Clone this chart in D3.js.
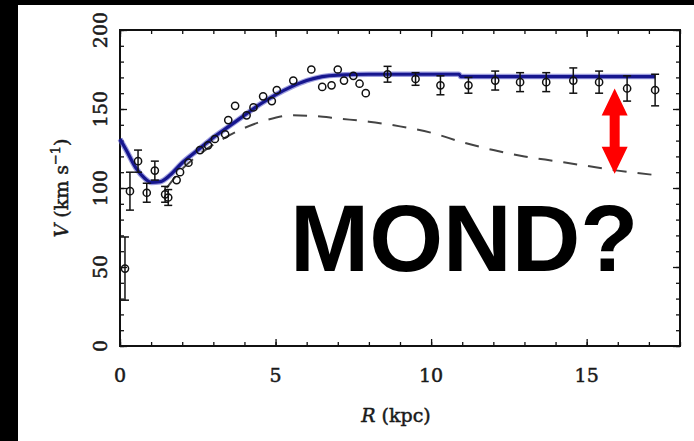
<!DOCTYPE html>
<html><head><meta charset="utf-8">
<script src="https://cdn.jsdelivr.net/npm/d3@7"></script>
<style>body{margin:0;background:#000}svg{display:block}</style>
</head><body>
<script>
// Observed rotation curve points: radius (kpc), velocity (km/s), error (km/s)
const obsR   = [0.16, 0.32, 0.58, 0.86, 1.12, 1.45, 1.55, 1.82, 1.93, 2.2, 2.57, 2.83, 3.05, 3.38, 3.48, 3.7, 4.07, 4.29, 4.6, 4.88, 5.04, 5.57, 6.15, 6.5, 6.8, 7.0, 7.2, 7.5, 7.7, 7.9, 8.6, 9.5, 10.3, 11.2, 12.06, 12.86, 13.7, 14.57, 15.4, 16.3, 17.2];
const obsV   = [49, 98, 117, 97, 111, 96, 94, 105, 110, 116, 124, 127, 131, 134, 143, 152, 146, 151, 158, 155, 162, 168, 175, 164, 165, 175, 168, 171, 166, 160, 172, 169, 165, 165, 168, 167, 167, 168, 167, 163, 162];
const obsErr = [20, 12, 7, 6, 6, 5, 5, 0, 0, 0, 0, 0, 0, 0, 0, 0, 0, 0, 0, 0, 0, 0, 0, 0, 0, 0, 0, 0, 0, 0, 5, 4, 6, 5, 6, 6, 6, 8, 7, 8, 10];

// MOND fit (solid blue)
const fitR = [0, 0.2, 0.5, 0.8, 1.0, 1.3, 1.6, 2.0, 2.5, 3.0, 3.5, 4.0, 4.5, 5.0, 5.5, 6.0, 6.5, 7.0, 8, 9, 10, 10.9, 10.95, 12, 13, 14, 15, 16, 17.2];
const fitV = [131, 124, 113, 106, 103.5, 104, 108, 116, 124, 132, 139, 146, 153, 159, 164, 168, 170.5, 171.5, 172, 172, 172, 172, 170.5, 170.5, 170.5, 170.5, 170.5, 170.5, 170.5];

// Newtonian baryonic curve (dashed)
const newtR = [1.5, 2, 2.6, 3.3, 4, 4.7, 5.5, 6.3, 7, 8, 9, 10, 11, 12, 13, 14, 15, 16, 17.3];
const newtV = [100, 112, 122, 131, 138, 143, 146, 145.5, 144, 142, 139, 135, 129, 124, 120, 117, 114, 111, 108];

const xMajor = [0, 5, 10, 15];
const yMajor = [0, 50, 100, 150, 200];

// arrow annotation (data units)
const arrowR = 15.9, arrowTop = 163, arrowBottom = 109;

const W = 694, H = 441;
const svg = d3.select("body").append("svg").attr("width", W).attr("height", H);
svg.append("rect").attr("width", W).attr("height", H).attr("fill", "#000");
svg.append("rect").attr("x", 18).attr("y", 5).attr("width", W - 18).attr("height", H - 5).attr("fill", "#fff");

const L = 120, R = 680, T = 30, B = 346;
const x = d3.scaleLinear().domain([0, 18]).range([L, R]);
const y = d3.scaleLinear().domain([0, 200]).range([B, T]);

const serif = "DejaVu Serif, serif";
function serifText(sel, size) {
  return sel.attr("font-family", serif).attr("font-size", size).attr("fill", "#1a1a1a")
    .attr("stroke", "#1a1a1a").attr("stroke-width", 0.5);
}

function styleAxis(g) {
  g.select(".domain").remove();
  g.selectAll("line").attr("stroke", "#111").attr("stroke-width", 1.3);
  g.selectAll("text").remove();
}
const minorX = d3.range(0, 19, 1), minorY = d3.range(0, 201, 10);
svg.append("g").attr("transform", `translate(0,${B})`).call(d3.axisBottom(x).tickValues(minorX).tickSize(-4)).call(styleAxis);
svg.append("g").attr("transform", `translate(0,${B})`).call(d3.axisBottom(x).tickValues(xMajor).tickSize(-7)).call(styleAxis);
svg.append("g").attr("transform", `translate(0,${T})`).call(d3.axisTop(x).tickValues(minorX).tickSize(-4)).call(styleAxis);
svg.append("g").attr("transform", `translate(0,${T})`).call(d3.axisTop(x).tickValues(xMajor).tickSize(-7)).call(styleAxis);
svg.append("g").attr("transform", `translate(${L},0)`).call(d3.axisLeft(y).tickValues(minorY).tickSize(-4)).call(styleAxis);
svg.append("g").attr("transform", `translate(${L},0)`).call(d3.axisLeft(y).tickValues(yMajor).tickSize(-7)).call(styleAxis);
svg.append("g").attr("transform", `translate(${R},0)`).call(d3.axisRight(y).tickValues(minorY).tickSize(-4)).call(styleAxis);
svg.append("g").attr("transform", `translate(${R},0)`).call(d3.axisRight(y).tickValues(yMajor).tickSize(-7)).call(styleAxis);

svg.append("rect").attr("x", L).attr("y", T).attr("width", R - L).attr("height", B - T)
  .attr("fill", "none").attr("stroke", "#111").attr("stroke-width", 2);

// tick labels
svg.append("g").selectAll("text").data(xMajor).join("text")
  .attr("x", d => x(d)).attr("y", 382).attr("text-anchor", "middle")
  .call(serifText, 19).text(d => d);
svg.append("g").selectAll("text").data(yMajor).join("text")
  .attr("transform", d => `translate(107,${y(d)}) rotate(-90)`).attr("text-anchor", "middle")
  .call(serifText, 19).text(d => d);

// axis titles
const xt = svg.append("text").attr("x", 396).attr("y", 422).attr("text-anchor", "middle").call(serifText, 19);
xt.append("tspan").attr("font-style", "italic").text("R");
xt.append("tspan").text(" (kpc)");
const yt = svg.append("text").attr("transform", `translate(68,${(T + B) / 2}) rotate(-90)`).attr("text-anchor", "middle").call(serifText, 19);
yt.append("tspan").attr("font-style", "italic").text("V");
yt.append("tspan").text(" (km s");
yt.append("tspan").attr("font-size", 13).attr("dy", -8).text("\u22121");
yt.append("tspan").attr("dy", 8).text(")");

// Newtonian dashed curve
const newt = newtR.map((r, i) => [r, newtV[i]]);
svg.append("path").datum(newt)
  .attr("d", d3.line().x(d => x(d[0])).y(d => y(d[1])).curve(d3.curveMonotoneX))
  .attr("fill", "none").attr("stroke", "#444").attr("stroke-width", 2).attr("stroke-dasharray", "14,11");

// MOND fit
const fit = fitR.map((r, i) => [r, fitV[i]]);
const fitLine = d3.line().x(d => x(d[0])).y(d => y(d[1])).curve(d3.curveMonotoneX);
svg.append("path").datum(fit).attr("d", fitLine)
  .attr("fill", "none").attr("stroke", "#5a5ac8").attr("stroke-width", 5.5).attr("stroke-opacity", 0.6);
svg.append("path").datum(fit).attr("d", fitLine)
  .attr("fill", "none").attr("stroke", "#16168e").attr("stroke-width", 3.2);

// observed points
const obs = obsR.map((r, i) => ({r, v: obsV[i], e: obsErr[i]}));
const eg = svg.append("g").attr("stroke", "#111").attr("stroke-width", 1.5);
obs.filter(d => d.e > 0).forEach(d => {
  eg.append("line").attr("x1", x(d.r)).attr("x2", x(d.r)).attr("y1", y(d.v - d.e)).attr("y2", y(d.v + d.e));
  [d.v - d.e, d.v + d.e].forEach(v => eg.append("line").attr("x1", x(d.r) - 4).attr("x2", x(d.r) + 4).attr("y1", y(v)).attr("y2", y(v)));
});
svg.append("g").selectAll("circle").data(obs).join("circle")
  .attr("cx", d => x(d.r)).attr("cy", d => y(d.v)).attr("r", 3.6)
  .attr("fill", "none").attr("stroke", "#111").attr("stroke-width", 1.5);

// red double arrow
const ax = x(arrowR), ay1 = y(arrowTop), ay2 = y(arrowBottom);
const hw = 13, hl = 27, sw = 5;
svg.append("path").attr("d",
  `M${ax},${ay1} L${ax + hw},${ay1 + hl} L${ax + sw},${ay1 + hl} L${ax + sw},${ay2 - hl} L${ax + hw},${ay2 - hl} L${ax},${ay2} L${ax - hw},${ay2 - hl} L${ax - sw},${ay2 - hl} L${ax - sw},${ay1 + hl} L${ax - hw},${ay1 + hl} Z`)
  .attr("fill", "#ff0000");

// MOND? label
svg.append("text").attr("x", 290).attr("y", 271)
  .attr("font-family", "Liberation Sans, Arial, sans-serif").attr("font-weight", "bold").attr("font-size", 95)
  .attr("fill", "#000").text("MOND?");
</script>
</body></html>
